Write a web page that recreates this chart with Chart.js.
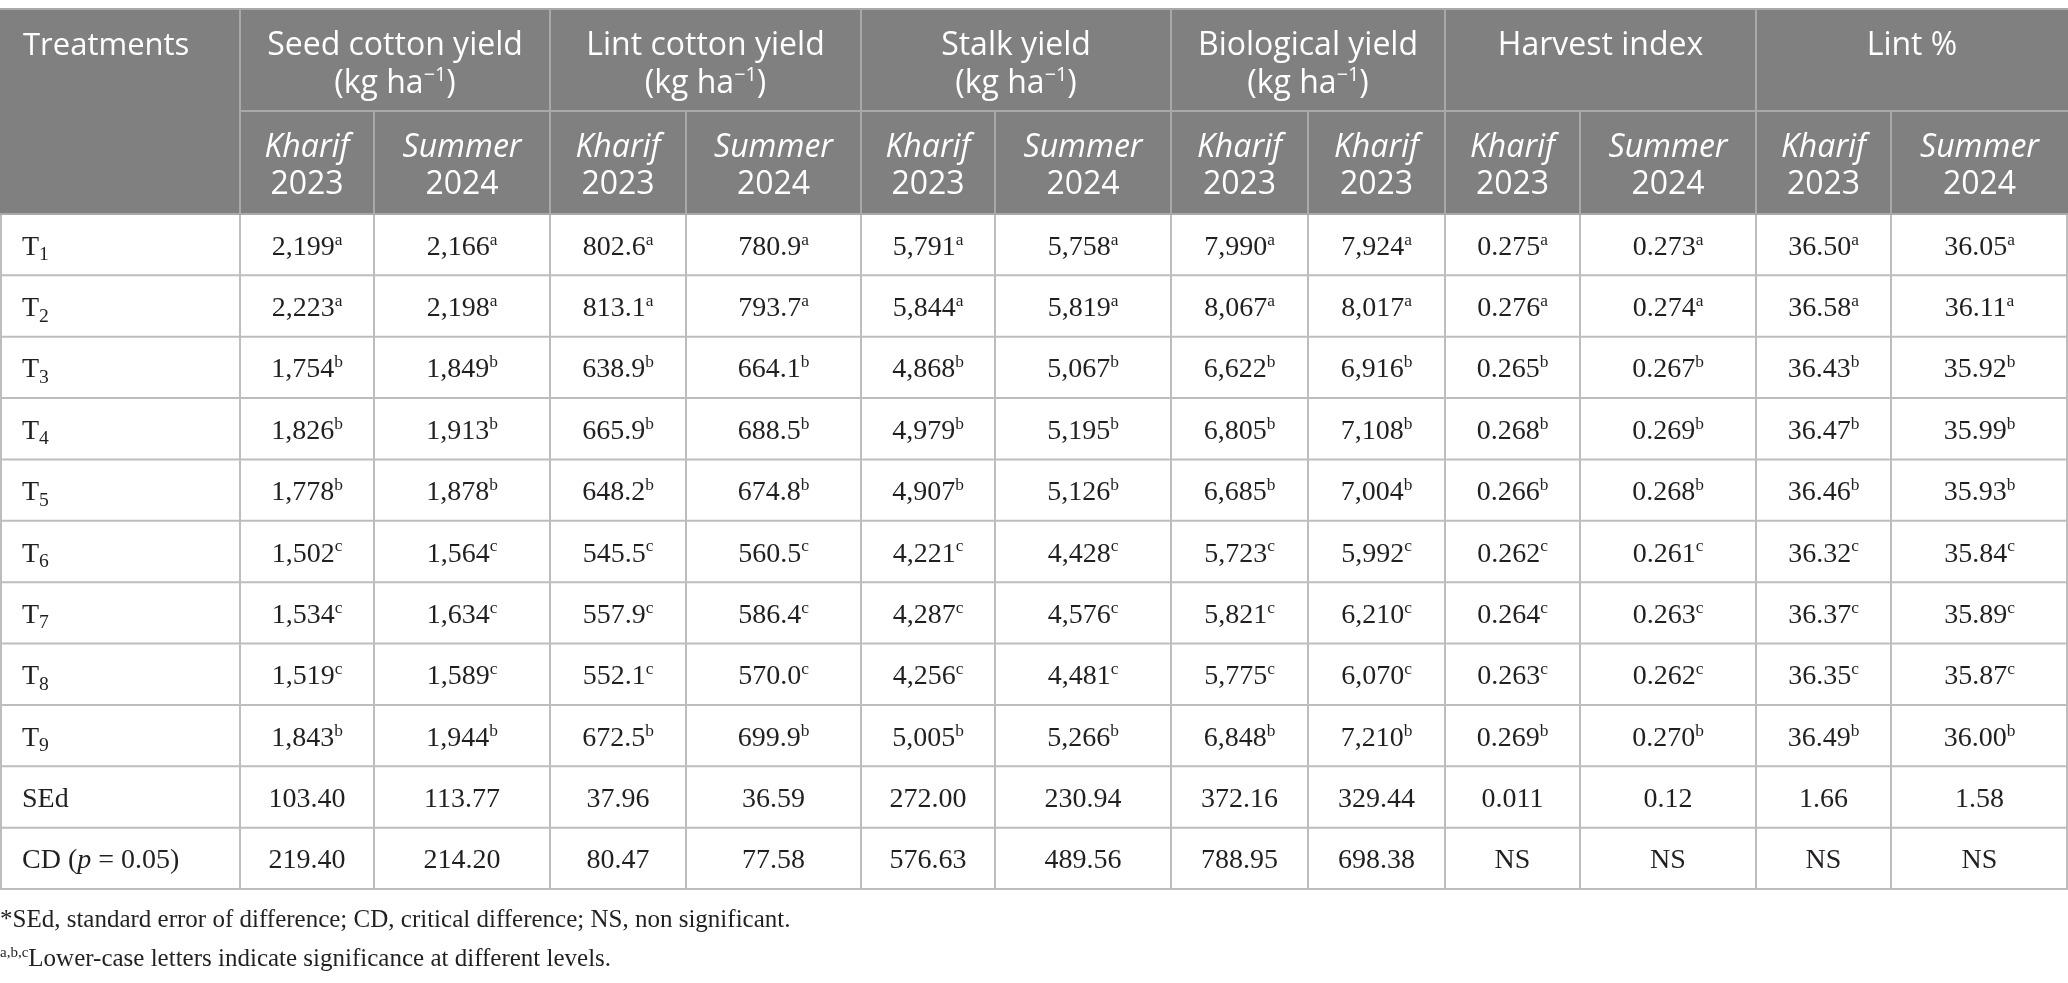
<!DOCTYPE html>
<html lang="en">
<head>
  <meta charset="UTF-8">
  <title>Cotton yield table</title>
  <script src="https://cdn.jsdelivr.net/npm/chart.js"></script>
  <style>
    html, body { margin: 0; padding: 0; background: #fff; }
    #wrap { width: 2068px; height: 983px; position: relative; }
  </style>
</head>
<body>
  <div id="wrap"><canvas id="tableCanvas"></canvas></div>

  <script>
    // table data
    const treatments = ['T1', 'T2', 'T3', 'T4', 'T5', 'T6', 'T7', 'T8', 'T9'];
    const letters = ['a', 'a', 'b', 'b', 'b', 'c', 'c', 'c', 'b'];

    const seedKharif = [2199, 2223, 1754, 1826, 1778, 1502, 1534, 1519, 1843];
    const seedSummer = [2166, 2198, 1849, 1913, 1878, 1564, 1634, 1589, 1944];
    const lintKharif = [802.6, 813.1, 638.9, 665.9, 648.2, 545.5, 557.9, 552.1, 672.5];
    const lintSummer = [780.9, 793.7, 664.1, 688.5, 674.8, 560.5, 586.4, 570.0, 699.9];
    const stalkKharif = [5791, 5844, 4868, 4979, 4907, 4221, 4287, 4256, 5005];
    const stalkSummer = [5758, 5819, 5067, 5195, 5126, 4428, 4576, 4481, 5266];
    const bioKharif = [7990, 8067, 6622, 6805, 6685, 5723, 5821, 5775, 6848];
    const bioSecond = [7924, 8017, 6916, 7108, 7004, 5992, 6210, 6070, 7210];
    const hiKharif = [0.275, 0.276, 0.265, 0.268, 0.266, 0.262, 0.264, 0.263, 0.269];
    const hiSummer = [0.273, 0.274, 0.267, 0.269, 0.268, 0.261, 0.263, 0.262, 0.270];
    const lintPctKharif = [36.50, 36.58, 36.43, 36.47, 36.46, 36.32, 36.37, 36.35, 36.49];
    const lintPctSummer = [36.05, 36.11, 35.92, 35.99, 35.93, 35.84, 35.89, 35.87, 36.00];

    const sedValues = ['103.40', '113.77', '37.96', '36.59', '272.00', '230.94', '372.16', '329.44', '0.011', '0.12', '1.66', '1.58'];
    const cdValues = ['219.40', '214.20', '80.47', '77.58', '576.63', '489.56', '788.95', '698.38', 'NS', 'NS', 'NS', 'NS'];

    const groupTitles = ['Seed cotton yield', 'Lint cotton yield', 'Stalk yield', 'Biological yield', 'Harvest index', 'Lint %'];
    const groupHasUnit = [true, true, true, true, false, false];
    const seasonNames = ['Kharif', 'Summer', 'Kharif', 'Summer', 'Kharif', 'Summer', 'Kharif', 'Kharif', 'Kharif', 'Summer', 'Kharif', 'Summer'];
    const seasonYears = ['2023', '2024', '2023', '2024', '2023', '2024', '2023', '2023', '2023', '2024', '2023', '2024'];

    const columns = [seedKharif, seedSummer, lintKharif, lintSummer, stalkKharif, stalkSummer,
                     bioKharif, bioSecond, hiKharif, hiSummer, lintPctKharif, lintPctSummer];
    const decimals = [0, 0, 1, 1, 0, 0, 0, 0, 3, 3, 2, 2];

    // layout (table units = canvas px)
    const colEdges = [0, 240, 374, 550, 686, 861, 995, 1171, 1308, 1445, 1580, 1756, 1891, 2068];
    const headTop = 9, headMid = 111, headBottom = 214, tableBottom = 889;
    const bodyRows = treatments.length + 2;
    const rowH = (tableBottom - headBottom) / bodyRows;

    const SANS = '"Open Sans", "Noto Sans", sans-serif';
    const SERIF = '"Liberation Serif", "DejaVu Serif", serif';
    const HEAD_BG = '#808080';
    const HEAD_LINE = '#a9a9a9';
    const BODY_LINE = '#bdbdbd';
    const INK = '#231f20';

    function fmt(v, d) {
      if (d === 0) return v.toLocaleString('en-US');
      return v.toFixed(d);
    }

    // draws text made of runs: {t, sup, sub, it}
    function drawRuns(ctx, runs, x, baseline, align, size, family, color) {
      const fontFor = r => {
        const s = r.sup ? size * r.sup : r.sub ? size * r.sub : size;
        return (r.it ? 'italic ' : '') + s.toFixed(1) + 'px ' + family;
      };
      let total = 0;
      const widths = runs.map(r => {
        ctx.font = fontFor(r);
        const w = ctx.measureText(r.t).width;
        total += w;
        return w;
      });
      let cx = align === 'center' ? x - total / 2 : x;
      ctx.fillStyle = color;
      ctx.textAlign = 'left';
      ctx.textBaseline = 'alphabetic';
      runs.forEach((r, i) => {
        ctx.font = fontFor(r);
        let dy = 0;
        if (r.sup) dy = -size * (r.raise || 0.34);
        if (r.sub) dy = size * 0.2;
        ctx.fillText(r.t, cx, baseline + dy);
        cx += widths[i];
      });
    }

    const tablePlugin = {
      id: 'tablePlugin',
      beforeDraw(chart) {
        const ctx = chart.ctx;
        ctx.save();
        ctx.fillStyle = '#ffffff';
        ctx.fillRect(0, 0, chart.width, chart.height);
        ctx.restore();
      },
      afterDraw(chart) {
        const ctx = chart.ctx;
        const xs = chart.scales.x, ys = chart.scales.y;
        const X = v => xs.getPixelForValue(v);
        const Y = v => ys.getPixelForValue(v);
        const rowTop = i => headBottom + i * rowH;
        const colMid = c => (X(colEdges[c]) + X(colEdges[c + 1])) / 2;

        ctx.save();
        // header background
        ctx.fillStyle = HEAD_BG;
        ctx.fillRect(X(0), Y(headTop), X(colEdges[colEdges.length - 1]) - X(0), Y(headBottom) - Y(headTop));

        // header lines
        ctx.strokeStyle = HEAD_LINE;
        ctx.lineWidth = 2;
        const line = (x1, y1, x2, y2) => {
          ctx.beginPath();
          ctx.moveTo(X(x1), Y(y1));
          ctx.lineTo(X(x2), Y(y2));
          ctx.stroke();
        };
        line(0, headTop, 2068, headTop);
        line(colEdges[1], headMid, 2068, headMid);
        for (let c = 1; c < colEdges.length - 1; c++) {
          const groupEdge = (c - 1) % 2 === 0;
          line(colEdges[c], groupEdge ? headTop : headMid, colEdges[c], headBottom);
        }

        // body lines
        ctx.strokeStyle = BODY_LINE;
        for (let r = 1; r <= bodyRows; r++) line(0, rowTop(r), 2068, rowTop(r));
        for (let c = 0; c < colEdges.length; c++) {
          const xv = Math.min(Math.max(colEdges[c], 1), 2067);
          line(xv, headBottom, xv, tableBottom);
        }
        ctx.strokeStyle = HEAD_LINE;
        line(0, headBottom, 2068, headBottom);

        // header text
        const hs = 32;
        drawRuns(ctx, [{ t: 'Treatments' }], X(23), Y(55), 'left', 31, SANS, '#ffffff');
        groupTitles.forEach((g, i) => {
          const cx = (X(colEdges[1 + 2 * i]) + X(colEdges[3 + 2 * i])) / 2;
          drawRuns(ctx, [{ t: g }], cx, Y(55), 'center', hs, SANS, '#ffffff');
          if (groupHasUnit[i]) {
            drawRuns(ctx, [{ t: '(kg ha' }, { t: '\u22121', sup: 0.62, raise: 0.38 }, { t: ')' }],
              cx, Y(93), 'center', hs, SANS, '#ffffff');
          }
        });
        seasonNames.forEach((s, c) => {
          drawRuns(ctx, [{ t: s, it: true }], colMid(c + 1), Y(157), 'center', hs, SANS, '#ffffff');
          drawRuns(ctx, [{ t: seasonYears[c] }], colMid(c + 1), Y(194), 'center', hs, SANS, '#ffffff');
        });

        // body text
        const bs = 28;
        treatments.forEach((t, r) => {
          const base = Y(rowTop(r) + rowH / 2 + 10);
          drawRuns(ctx, [{ t: t.charAt(0) }, { t: t.slice(1), sub: 0.7 }], X(22), base, 'left', bs, SERIF, INK);
          columns.forEach((col, c) => {
            drawRuns(ctx, [{ t: fmt(col[r], decimals[c]) }, { t: letters[r], sup: 0.62, raise: 0.36 }],
              colMid(c + 1), base, 'center', bs, SERIF, INK);
          });
        });
        const sedBase = Y(rowTop(treatments.length) + rowH / 2 + 10);
        drawRuns(ctx, [{ t: 'SEd' }], X(22), sedBase, 'left', bs, SERIF, INK);
        sedValues.forEach((v, c) => drawRuns(ctx, [{ t: v }], colMid(c + 1), sedBase, 'center', bs, SERIF, INK));
        const cdBase = Y(rowTop(treatments.length + 1) + rowH / 2 + 10);
        drawRuns(ctx, [{ t: 'CD (' }, { t: 'p', it: true }, { t: ' = 0.05)' }], X(22), cdBase, 'left', bs, SERIF, INK);
        cdValues.forEach((v, c) => drawRuns(ctx, [{ t: v }], colMid(c + 1), cdBase, 'center', bs, SERIF, INK));

        // footnotes
        const fs = 25;
        drawRuns(ctx, [{ t: '*SEd, standard error of difference; CD, critical difference; NS, non significant.' }],
          X(0), Y(927), 'left', fs, SERIF, INK);
        drawRuns(ctx, [{ t: 'a,b,c', sup: 0.6, raise: 0.38 }, { t: 'Lower-case letters indicate significance at different levels.' }],
          X(0), Y(966), 'left', fs, SERIF, INK);
        ctx.restore();
      }
    };

    const chart = new Chart(document.getElementById('tableCanvas'), {
      type: 'scatter',
      data: { datasets: [] },
      options: {
        responsive: true,
        maintainAspectRatio: false,
        animation: false,
        events: [],
        layout: { padding: 0 },
        plugins: { legend: { display: false }, tooltip: { enabled: false } },
        scales: {
          x: { type: 'linear', min: 0, max: 2068, display: false },
          y: { type: 'linear', min: 0, max: 983, reverse: true, display: false }
        }
      },
      plugins: [tablePlugin]
    });
  </script>
</body>
</html>
